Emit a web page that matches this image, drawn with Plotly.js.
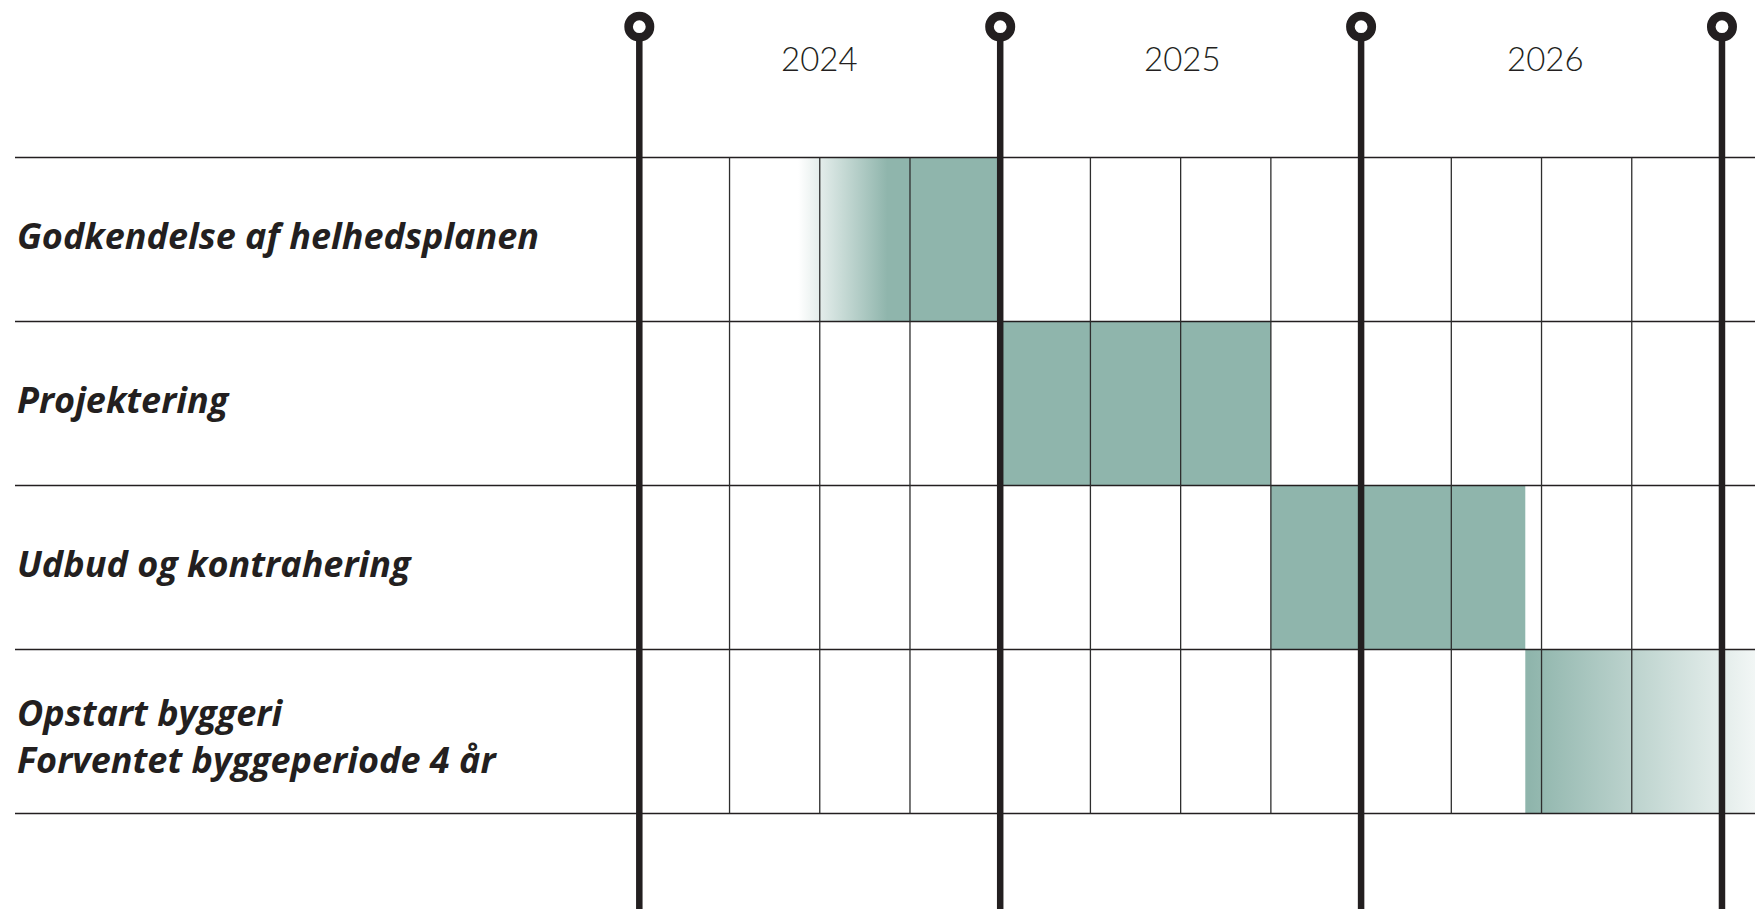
<!DOCTYPE html>
<html>
<head>
<meta charset="utf-8">
<script src="https://cdn.plot.ly/plotly-3.0.1.min.js"></script>
<style>html,body{margin:0;padding:0;background:#fff;}#chart{width:1755px;height:909px;}</style>
</head>
<body>
<div id="chart"></div>
<script>
// ---- data ----
const tasks = ["Godkendelse af helhedsplanen", "Projektering", "Udbud og kontrahering", "Opstart byggeri<br>Forventet byggeperiode 4 år"];
const taskStart = [1.75, 4, 7, 9.82];      // in quarters from start of 2024
const taskEnd   = [4, 7, 9.82, 12.8];
const fadeIn    = [[1.76, 2.75], null, null, null];   // gradient from transparent to solid
const fadeOut   = [null, null, null, [9.87, 12.7]];   // gradient from solid to transparent
const years = ["2024", "2025", "2026"];
const yearBounds = [0, 4, 8, 12];           // quarter index of year boundaries
const quarterLines = [1, 2, 3, 5, 6, 7, 9, 10, 11];

// ---- styles ----
const GREEN = 'rgb(143,181,172)';
const GREEN0 = 'rgba(143,181,172,0)';
const INK = '#231f20';
const xRange = [-7.086, 12.366];
const yRange = [4.5823, -0.9604];
const pinY = -0.7976;
const yearLabelY = -0.607;
const nRows = tasks.length;

const traces = [];
tasks.forEach((t, i) => {
  const x0 = taskStart[i], x1 = taskEnd[i];
  const tr = {
    x: [x0, x1, x1, x0, x0],
    y: [i, i, i + 1, i + 1, i],
    mode: 'lines', line: {width: 0}, fill: 'toself',
    fillcolor: GREEN, hoverinfo: 'skip', showlegend: false
  };
  if (fadeIn[i]) {
    tr.fillgradient = {type: 'horizontal', start: fadeIn[i][0], stop: fadeIn[i][1],
      colorscale: [[0, GREEN0], [1, GREEN]]};
  }
  if (fadeOut[i]) {
    tr.fillgradient = {type: 'horizontal', start: fadeOut[i][0], stop: fadeOut[i][1],
      colorscale: [[0, GREEN], [1, GREEN0]]};
  }
  traces.push(tr);
});

const shapes = [];
// horizontal row lines
for (let r = 0; r <= nRows; r++) {
  shapes.push({type: 'line', xref: 'paper', yref: 'y', x0: 15 / 1755, x1: 1, y0: r, y1: r,
    line: {color: INK, width: 1.3}, layer: 'above'});
}
// quarter lines
quarterLines.forEach(q => {
  shapes.push({type: 'line', xref: 'x', yref: 'y', x0: q, x1: q, y0: 0, y1: nRows,
    line: {color: '#2e2e2e', width: 1.3}, layer: 'above'});
});
// year boundary lines
yearBounds.forEach(q => {
  shapes.push({type: 'line', xref: 'x', yref: 'y', x0: q, x1: q, y0: pinY, y1: yRange[0] + 0.1,
    line: {color: INK, width: 6.5}, layer: 'above'});
});
// pin circles
yearBounds.forEach(q => {
  shapes.push({type: 'circle', xref: 'x', yref: 'y', xsizemode: 'pixel', ysizemode: 'pixel',
    xanchor: q, yanchor: pinY, x0: -10.7, x1: 10.7, y0: -10.7, y1: 10.7,
    fillcolor: '#ffffff', line: {color: INK, width: 8.6}, layer: 'above'});
});

const annotations = [];
years.forEach((y, i) => {
  annotations.push({x: (yearBounds[i] + yearBounds[i + 1]) / 2 + 0.02 * i, y: yearLabelY, xref: 'x', yref: 'y',
    text: y, showarrow: false, xanchor: 'center', yanchor: 'middle',
    font: {family: 'Lato, "Open Sans", sans-serif', size: 33, color: INK, weight: 300}});
});
tasks.forEach((t, i) => {
  const multi = t.indexOf('<br>') >= 0;
  annotations.push({x: 15 / 1755, y: i + 0.5 + (multi ? 0.03 : -0.025), xref: 'paper', yref: 'y', text: t,
    showarrow: false, xanchor: 'left', yanchor: 'middle', align: 'left',
    font: {family: '"Open Sans", Lato, sans-serif', size: 36, color: INK, weight: 700, style: 'italic'}});
});

const layout = {
  width: 1755, height: 909,
  margin: {l: 0, r: 0, t: 0, b: 0, pad: 0},
  paper_bgcolor: '#ffffff', plot_bgcolor: '#ffffff',
  xaxis: {range: xRange, visible: false, fixedrange: true},
  yaxis: {range: yRange, visible: false, fixedrange: true},
  shapes: shapes, annotations: annotations, showlegend: false
};
Plotly.newPlot('chart', traces, layout, {displayModeBar: false, staticPlot: true});
</script>
</body>
</html>
